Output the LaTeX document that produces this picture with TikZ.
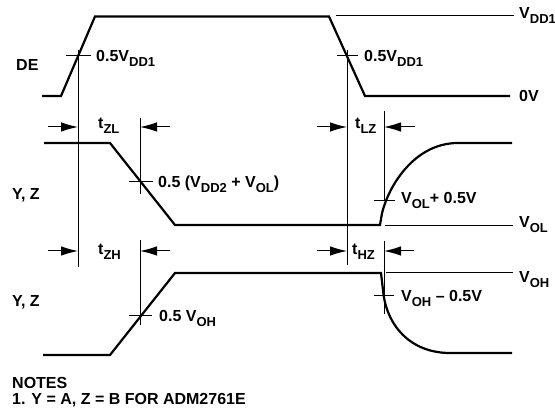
\documentclass[tikz,border=0pt]{standalone}
\usepackage{fontspec}
\setmainfont{Liberation Sans}
\usepackage{tikz}
\usetikzlibrary{arrows.meta, positioning}

\newcommand{\lowtxt}[1]{\raisebox{-0.3em}{\fontsize{13}{13}\selectfont #1}}

\begin{document}
\begin{tikzpicture}[
        x=1pt, y=-1pt,
        trace/.style={line width=2.2pt, line join=miter},
        rule/.style={line width=1pt},
        timing/.style={line width=1pt, -{Latex[length=17pt, width=9.5pt]}},
        every node/.style={inner sep=0pt, anchor=base west, font=\fontsize{16}{16}\selectfont\bfseries}
    ]
    \useasboundingbox (0,0) rectangle (555,411);

    % Coordinates for verticals
    \coordinate (A1) at (78,50);
    \coordinate (A2) at (78,267);
    \coordinate (B1) at (347,50);
    \coordinate (B2) at (347,265);
    \coordinate (C1) at (140,118);
    \coordinate (C2) at (140,194);
    \coordinate (D1) at (140,240);
    \coordinate (D2) at (140,325);
    \coordinate (E1) at (384,111);
    \coordinate (E2) at (384,201);
    \coordinate (F1) at (384,241);
    \coordinate (F2) at (384,314);

    % Verticals
    \draw[rule] (A1) -- (A2);
    \draw[rule] (B1) -- (B2);
    \draw[rule] (C1) -- (C2);
    \draw[rule] (D1) -- (D2);
    \draw[rule] (E1) -- (E2);
    \draw[rule] (F1) -- (F2);

    % Waveforms
    \draw[trace] (42,96) -- (61,96) -- (95,16.5) -- (329,16.5) -- (365,96) -- (510,96);
    \draw[trace] (44,143) -- (110,143) -- (175,225) -- (380,225) -- (381,219)
        .. controls (384,195) and (410,143) .. (458,143) -- (512,143);
    \draw[trace] (43,355) -- (110,355) -- (175,273) -- (381,273) -- (383,290)
        .. controls (386,325) and (410,353) .. (450,353) -- (512,353);

    % Levels
    \draw[rule] (336,16) -- (514,16);
    \draw[rule] (385,225.5) -- (513,225.5);
    \draw[rule] (386,273) -- (513,273);

    % Ticks
    \draw[rule] (66,56) -- (91,56);
    \draw[rule] (337,56) -- (358,56);
    \draw[rule] (129,182) -- (153,182);
    \draw[rule] (374,201) -- (395,201);
    \draw[rule] (129,316) -- (152,316);
    \draw[rule] (374,296) -- (394,296);

    % Timing arrows
    \coordinate (ZLa) at (78,127);
    \coordinate (ZLb) at (140,127);
    \coordinate (LZa) at (347,127);
    \coordinate (LZb) at (384,127);
    \coordinate (ZHa) at (78,251);
    \coordinate (ZHb) at (140,251);
    \coordinate (HZa) at (347,251);
    \coordinate (HZb) at (384,251);
    \draw[timing] (48,127) -- (ZLa);
    \draw[timing] (170,127) -- (ZLb);
    \draw[timing] (317,127) -- (LZa);
    \draw[timing] (415,127) -- (LZb);
    \draw[timing] (48,251) -- (ZHa);
    \draw[timing] (170,251) -- (ZHb);
    \draw[timing] (317,251) -- (HZa);
    \draw[timing] (414,251) -- (HZb);

    % Labels
    \node (de) at (16,71) {DE};
    \node (yz1) at (12,200) {Y, Z};
    \node (yz2) at (12,307) {Y, Z};
    \node (half1) at (96,62) {0.5V\lowtxt{DD1}};
    \node (half2) at (364,62) {0.5V\lowtxt{DD1}};
    \node (tzl) at (98,129) {t\lowtxt{ZL}};
    \node (tlz) at (355,129) {t\lowtxt{LZ}};
    \node (tzh) at (98,255) {t\lowtxt{ZH}};
    \node (thz) at (352,255) {t\lowtxt{HZ}};
    \node (mid) at (158,188) {0.5 (V\lowtxt{DD2} + V\lowtxt{OL})};
    \node (voh5) at (159,322) {0.5 V\lowtxt{OH}};
    \node (vdd) at (519,19) {V\lowtxt{DD1}};
    \node (zero) at (519,102) {0V};
    \node (vol) at (519,228) {V\lowtxt{OL}};
    \node (voh) at (519,283) {V\lowtxt{OH}};
    \node (volp) at (401,204) {V\lowtxt{OL}+ 0.5V};
    \node (vohm) at (401,302) {V\lowtxt{OH} – 0.5V};
    \node (notes) at (12,389) {NOTES};
    \node (note1) at (12,405) {1. Y = A, Z = B FOR ADM2761E};

\end{tikzpicture}
\end{document}
